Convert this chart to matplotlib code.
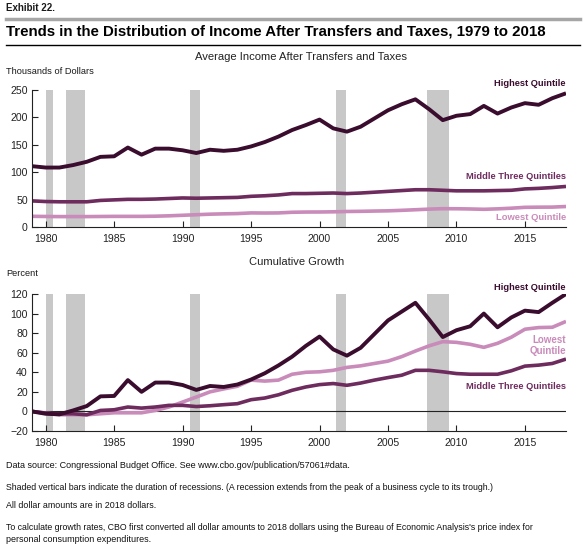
import matplotlib
matplotlib.use("Agg")
import matplotlib.pyplot as plt
from matplotlib.lines import Line2D

# ---------------------------------------------------------------------------
# Data (read off the CBO exhibit)
# ---------------------------------------------------------------------------
years = list(range(1979, 2019))

# Average income after transfers and taxes, thousands of 2018 dollars
income_highest = [111, 108.5, 108.5, 113, 119, 128, 129, 145, 132, 143,
                  143, 140, 135, 141, 139, 141, 147, 155, 165, 177,
                  186, 196, 180, 174, 183, 198, 213, 224, 233, 215,
                  195, 203, 206, 221, 207, 218, 226, 223, 235, 244]
income_middle = [47.6, 46.5, 46, 46, 46, 48.5, 49.5, 50.5, 50.5, 51,
                 52, 53, 52.5, 53, 53.5, 54, 56, 57, 58.5, 61,
                 61, 61.5, 62, 61, 62, 63.5, 65, 66.5, 68, 68,
                 67, 66, 66, 66, 66.5, 67, 69.5, 70.5, 72, 74]
income_lowest = [19.5, 19.2, 19, 19, 19, 19.2, 19.4, 19.4, 19.4, 19.7,
                 20.4, 21.4, 22.4, 23.4, 24, 24.5, 25.7, 25.5, 25.7, 26.9,
                 27.3, 27.4, 27.7, 28.3, 28.6, 29.1, 29.5, 30.4, 31.5, 32.6,
                 33.4, 33.3, 32.9, 32.3, 33.1, 34.3, 35.9, 36.2, 36.3, 37.4]

# Cumulative growth since 1979, percent
growth_highest = [0, -2.4, -3, 1, 5.5, 15.4, 15.8, 32, 20, 29.5,
                  29.5, 27, 22, 26, 25, 27.5, 32.6, 39, 47, 56,
                  67, 76.5, 63.4, 57, 65, 79, 93, 102, 111, 94,
                  76, 83, 87, 100, 86, 96, 103, 101.5, 111, 120]
growth_middle = [0, -1.7, -2.4, -2.4, -3.4, 1, 1.7, 4.5, 3.4, 4.5,
                 6.2, 6.2, 5, 5.8, 6.9, 7.9, 12, 13.7, 17, 21.6,
                 25, 27.4, 28.5, 26.7, 29, 32, 34.6, 37, 42, 42,
                 40.5, 38.7, 38, 38, 38, 41.5, 46.3, 47.3, 49, 53.5]
growth_lowest = [0, -1.7, -3.4, -3.4, -3.4, -2.4, -1.4, -1.4, -1.4, 1,
                 4.5, 9.6, 14.7, 20, 23, 25.7, 32, 31, 32, 38,
                 40, 40.5, 42, 45, 46.6, 49, 51.4, 56, 61.7, 67,
                 71.3, 70.6, 68.6, 65.5, 69.6, 75.8, 84, 85.7, 86, 92]

# Recessions (start, end) in fractional years
recessions = [(1980.0, 1980.55), (1981.46, 1982.87), (1990.51, 1991.24),
              (2001.17, 2001.9), (2007.88, 2009.49)]

xticks = [1980, 1985, 1990, 1995, 2000, 2005, 2010, 2015]

# ---------------------------------------------------------------------------
# Style
# ---------------------------------------------------------------------------
plt.rcParams['font.family'] = ['Liberation Sans', 'DejaVu Sans']
plt.rcParams['font.size'] = 8

c_high = '#3a0c2e'
c_mid = '#6e2b5e'
c_low = '#c98bba'
c_rec = '#c8c8c8'
c_text = '#1a1a1a'

W, H = 585, 558
fig = plt.figure(figsize=(W / 100, H / 100), dpi=100)
fig.patch.set_facecolor('white')
renderer = fig.canvas.get_renderer()


def px_axes(left, top, right, bottom):
    return fig.add_axes([left / W, 1 - bottom / H, (right - left) / W, (bottom - top) / H])


def fit(txt, width_px, max_size=None):
    """shrink a text so it is about width_px wide (font is wider than the original)"""
    w = txt.get_window_extent(renderer).width
    size = txt.get_fontsize() * width_px / w
    if max_size is not None:
        size = min(size, max_size)
    txt.set_fontsize(size)
    return txt


def style_axes(ax, ymin, ymax, yticks):
    ax.set_xlim(1979, 2018)
    ax.set_ylim(ymin, ymax)
    for r0, r1 in recessions:
        ax.axvspan(r0, r1, color=c_rec, lw=0, zorder=0)
    ax.set_xticks(xticks)
    ax.set_yticks(yticks)
    ax.tick_params(direction='in', length=4, width=0.8, colors='#222222',
                   labelsize=7.6, pad=3)
    ax.tick_params(axis='x', pad=5)
    for s in ['top', 'right']:
        ax.spines[s].set_visible(False)
    for s in ['left', 'bottom']:
        ax.spines[s].set_linewidth(0.8)
        ax.spines[s].set_color('#222222')


# ---------------------------------------------------------------------------
# Header
# ---------------------------------------------------------------------------
fit(fig.text(6 / W, 1 - 8 / H, 'Exhibit 22.', fontsize=8, fontweight='bold',
             va='center', ha='left', color=c_text), 49)
fig.add_artist(Line2D([6 / W, 580 / W], [1 - 19 / H, 1 - 19 / H], color='#a6a6a6', lw=2.5))
fit(fig.text(6 / W, 1 - 32 / H,
             'Trends in the Distribution of Income After Transfers and Taxes, 1979 to 2018',
             fontsize=12.5, fontweight='bold', va='center', ha='left', color='black'), 543)
fig.add_artist(Line2D([6 / W, 580 / W], [1 - 45 / H, 1 - 45 / H], color='black', lw=1.0))

# ---------------------------------------------------------------------------
# Top panel: average income
# ---------------------------------------------------------------------------
fit(fig.text(301 / W, 1 - 57 / H, 'Average Income After Transfers and Taxes',
             fontsize=8.5, ha='center', va='center', color='#222222'), 212)
fit(fig.text(6 / W, 1 - 71 / H, 'Thousands of Dollars', fontsize=8,
             ha='left', va='center', color=c_text), 88)

ax1 = px_axes(32, 90, 566, 227)
style_axes(ax1, 0, 250, [0, 50, 100, 150, 200, 250])
ax1.plot(years, income_lowest, color=c_low, lw=2.6, solid_capstyle='butt')
ax1.plot(years, income_middle, color=c_mid, lw=2.6, solid_capstyle='butt')
ax1.plot(years, income_highest, color=c_high, lw=2.8, solid_capstyle='butt')

fit(ax1.text(2018, 262, 'Highest Quintile', color=c_high, fontsize=8,
             fontweight='bold', ha='right', va='center'), 72)
fit(ax1.text(2018, 93, 'Middle Three Quintiles', color=c_mid, fontsize=8,
             fontweight='bold', ha='right', va='center'), 100)
fit(ax1.text(2018, 18, 'Lowest Quintile', color=c_low, fontsize=8,
             fontweight='bold', ha='right', va='center'), 70)

# ---------------------------------------------------------------------------
# Bottom panel: cumulative growth
# ---------------------------------------------------------------------------
fit(fig.text(297 / W, 1 - 262 / H, 'Cumulative Growth', fontsize=8.5,
             ha='center', va='center', color='#222222'), 95)
fit(fig.text(6 / W, 1 - 273 / H, 'Percent', fontsize=8, ha='left',
             va='center', color=c_text), 32)

ax2 = px_axes(32, 294, 566, 431)
style_axes(ax2, -20, 120, [-20, 0, 20, 40, 60, 80, 100, 120])
ax2.axhline(0, color='#222222', lw=0.8, zorder=1)
ax2.plot(years, growth_lowest, color=c_low, lw=2.6, solid_capstyle='butt')
ax2.plot(years, growth_middle, color=c_mid, lw=2.6, solid_capstyle='butt')
ax2.plot(years, growth_highest, color=c_high, lw=2.8, solid_capstyle='butt')

fit(ax2.text(2018, 126.5, 'Highest Quintile', color=c_high, fontsize=8,
             fontweight='bold', ha='right', va='center'), 72)
ax2.text(2018, 67, 'Lowest\nQuintile', color=c_low, fontsize=7.0,
         fontweight='bold', ha='right', va='center', linespacing=1.15)
fit(ax2.text(2018, 25, 'Middle Three Quintiles', color=c_mid, fontsize=8,
             fontweight='bold', ha='right', va='center'), 100)

# ---------------------------------------------------------------------------
# Notes
# ---------------------------------------------------------------------------
notes = [
    (466, 351, 'Data source: Congressional Budget Office. See www.cbo.gov/publication/57061#data.'),
    (487, 496, 'Shaded vertical bars indicate the duration of recessions. (A recession extends from the peak of a business cycle to its trough.)'),
    (506, 156, 'All dollar amounts are in 2018 dollars.'),
    (527, 539, "To calculate growth rates, CBO first converted all dollar amounts to 2018 dollars using the Bureau of Economic Analysis's price index for"),
    (540, 152, 'personal consumption expenditures.'),
]
for y, right, t in notes:
    fit(fig.text(6 / W, 1 - y / H, t, fontsize=6.6, ha='left', va='center',
                 color='#111111'), right - 6, max_size=6.6)

fig.savefig('out.png', dpi=100, facecolor='white')
